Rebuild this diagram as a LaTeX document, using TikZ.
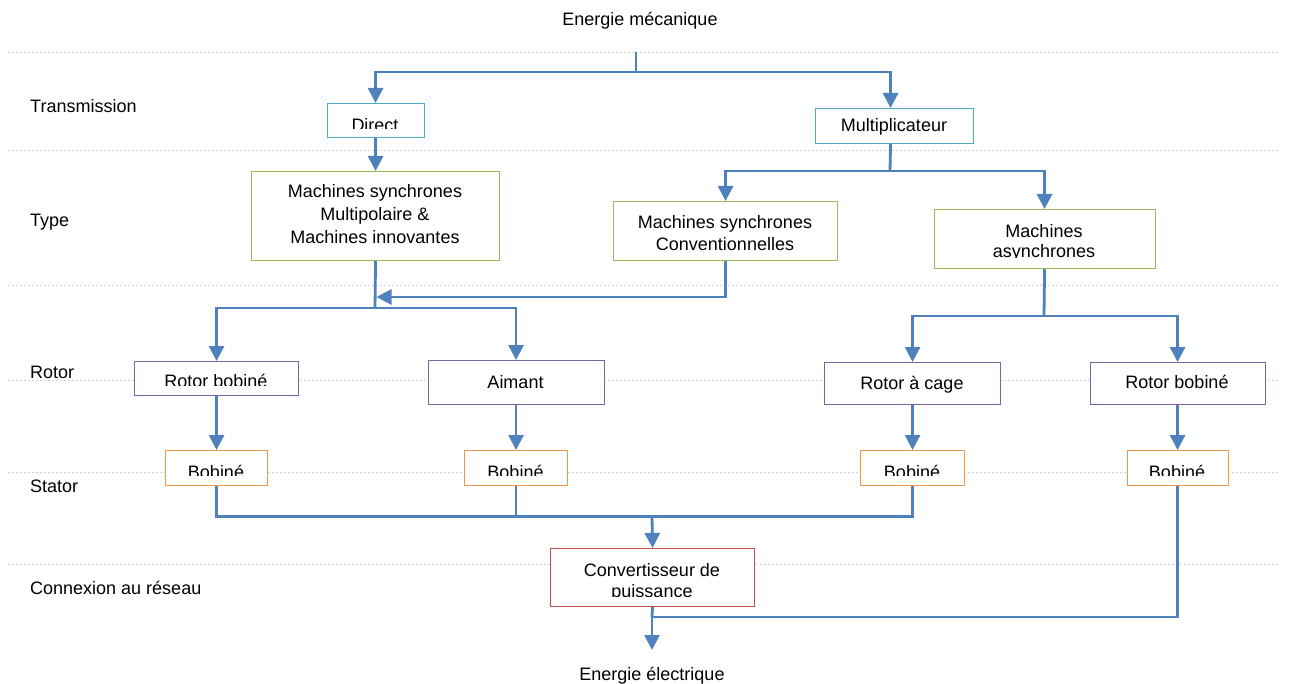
\documentclass[tikz,border=0pt]{standalone}
\usepackage{fontspec}
\setmainfont{Liberation Sans}
\usetikzlibrary{arrows.meta}
\definecolor{lineblue}{RGB}{79,129,189}
\definecolor{boxcyan}{RGB}{75,172,198}
\definecolor{boxgreen}{RGB}{155,187,89}
\definecolor{boxpurple}{RGB}{128,100,162}
\definecolor{boxorange}{RGB}{247,150,70}
\definecolor{boxred}{RGB}{192,80,77}
\definecolor{guide}{RGB}{210,210,210}
\begin{document}
\begin{tikzpicture}[x=1pt,y=-1pt,
  font=\fontsize{18}{21}\selectfont,
  conn/.style={draw=lineblue, line width=2.8pt},
  arr/.style={conn, -{Triangle[width=15pt,length=15pt]}},
  box/.style={draw, fill=white, line width=1.1pt, inner sep=0pt, anchor=north west},
  txt/.style={anchor=base, inner sep=0pt},
  lbl/.style={anchor=base west, inner sep=0pt},
  guideline/.style={draw=guide, line width=0.8pt, dash pattern=on 2pt off 2pt}]
\useasboundingbox[fill=white] (0,0) rectangle (1292,684);

% guide lines
\foreach \yy in {52,150,285,380,472,564}
  \draw[guideline] (8,\yy) -- (1278,\yy);

% row labels
\node[lbl] (lt) at (30,113) {Transmission};
\node[lbl] (ltype) at (30,227) {Type};
\node[lbl] (lrot) at (30,378) {Rotor};
\node[lbl] (lsta) at (30,492) {Stator};
\node[lbl] (lcon) at (30,594) {Connexion au réseau};

% top / bottom texts
\node[txt] (emec) at (640,26) {Energie mécanique};
\node[txt] (eelec) at (652,680) {Energie électrique};

% boxes
\node[box, draw=boxcyan, minimum width=97pt, minimum height=34pt] (direct) at (326.5,103) {};
\node[box, draw=boxcyan, minimum width=158pt, minimum height=35pt] (multi) at (815,108) {};
\node[box, draw=boxgreen, minimum width=248pt, minimum height=89pt] (msm) at (251,171) {};
\node[box, draw=boxgreen, minimum width=224pt, minimum height=59pt] (msc) at (613,201) {};
\node[box, draw=boxgreen, minimum width=221pt, minimum height=59pt] (masy) at (933.5,209) {};
\node[box, draw=boxpurple, minimum width=164pt, minimum height=34pt] (rb1) at (134,361) {};
\node[box, draw=boxpurple, minimum width=176pt, minimum height=44pt] (aim) at (427.5,360) {};
\node[box, draw=boxpurple, minimum width=176pt, minimum height=42pt] (rac) at (824,362) {};
\node[box, draw=boxpurple, minimum width=175pt, minimum height=42pt] (rb2) at (1089.5,362) {};
\node[box, draw=boxorange, minimum width=102pt, minimum height=35pt] (b1) at (165,450) {};
\node[box, draw=boxorange, minimum width=103pt, minimum height=35pt] (b2) at (464,450) {};
\node[box, draw=boxorange, minimum width=104pt, minimum height=35pt] (b3) at (860,450) {};
\node[box, draw=boxorange, minimum width=101pt, minimum height=35pt] (b4) at (1126.5,450) {};
\node[box, draw=boxred, minimum width=204pt, minimum height=58pt] (conv) at (550,548) {};

% box texts (full)
\node[txt] (tmulti) at (894,132) {Multiplicateur};
\node[txt] (tmsm1) at (375,197.5) {Machines synchrones};
\node[txt] (tmsm2) at (375,220.5) {Multipolaire \&};
\node[txt] (tmsm3) at (375,243.5) {Machines innovantes};
\node[txt] (tmsc1) at (725,228.5) {Machines synchrones};
\node[txt] (tmsc2) at (725,250.5) {Conventionnelles};
\node[txt] (tmasy1) at (1044,237.5) {Machines};
\node[txt] (taim) at (515.5,388.5) {Aimant};
\node[txt] (trac) at (912,389.5) {Rotor à cage};
\node[txt] (trb2) at (1177,388.5) {Rotor bobiné};
\node[txt] (tconv1) at (652,576) {Convertisseur de};

% box texts (cut at the bottom)
\begin{scope}\clip (326,103) rectangle (424,128.5);
\node[txt] (tdirect) at (375,131.5) {Direct};\end{scope}
\begin{scope}\clip (934,210) rectangle (1154,257.5);
\node[txt] (tmasy2) at (1044,258) {asynchrones};\end{scope}
\begin{scope}\clip (134,361) rectangle (298,385);
\node[txt] (trb1) at (216,387.5) {Rotor bobiné};\end{scope}
\begin{scope}\clip (165,450) rectangle (267,475.5);
\node[txt] (tb1) at (216,478) {Bobiné};\end{scope}
\begin{scope}\clip (464,450) rectangle (567,475.5);
\node[txt] (tb2) at (515.5,478) {Bobiné};\end{scope}
\begin{scope}\clip (860,450) rectangle (964,475.5);
\node[txt] (tb3) at (912,478) {Bobiné};\end{scope}
\begin{scope}\clip (1126,450) rectangle (1228,475.5);
\node[txt] (tb4) at (1177,478) {Bobiné};\end{scope}
\begin{scope}\clip (550,548) rectangle (754,596);
\node[txt] (tconv2) at (652,597.5) {puissance};\end{scope}

% connectors
\coordinate (j0) at (636,52);
\coordinate (j1) at (636,72);
\draw[conn] (j0) -- (j1);
\draw[arr] (j1) -| (direct.north);
\draw[arr] (j1) -| ([xshift=-4pt]multi.north);
\draw[arr] (direct.south) -- (msm.north);

\coordinate (jm) at (890,171);
\draw[conn] ([xshift=-4pt]multi.south) -- (jm);
\draw[arr] (jm) -| (msc.north);
\draw[arr] (jm) -| (masy.north);

\coordinate (jr) at (375,308);
\coordinate (jc) at (376.5,297);
\draw[conn] (msm.south) -- (jr);
\draw[arr] (msc.south) |- (jc);
\draw[arr] (jr) -| (rb1.north);
\draw[arr] (jr) -| (aim.north);

\coordinate (ja) at (1044,316);
\draw[conn] (masy.south) -- (ja);
\draw[arr] (ja) -| (rac.north);
\draw[arr] (ja) -| (rb2.north);

\draw[arr] (rb1.south) -- (b1.north);
\draw[arr] (aim.south) -- (b2.north);
\draw[arr] (rac.south) -- (b3.north);
\draw[arr] (rb2.south) -- (b4.north);

\coordinate (jb) at (652,516.5);
\draw[conn] (b1.south) |- (jb) -| (b3.south);
\draw[conn] (b2.south) -- (b2.south |- jb);
\draw[arr] (jb) -- (conv.north);

\coordinate (je) at (652,617);
\coordinate (tip) at (652,650);
\draw[conn] (b4.south) |- (je);
\draw[conn] (conv.south) -- (je);
\draw[arr] (je) -- (tip);
\end{tikzpicture}
\end{document}
